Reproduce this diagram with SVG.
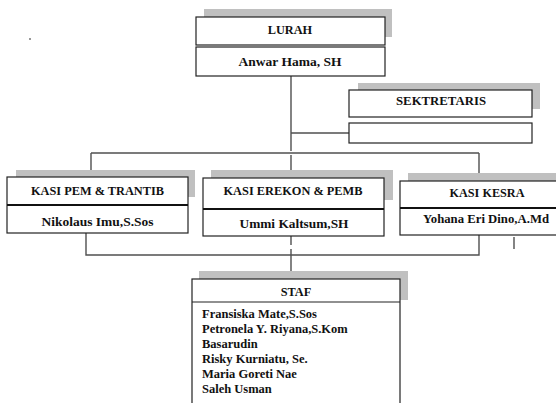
<svg xmlns="http://www.w3.org/2000/svg" width="556" height="403" viewBox="0 0 556 403">
<style>
.sh{fill:#c0c0c0}
.bx{fill:#fff;stroke:#222;stroke-width:1.2}
.dv{stroke:#111;stroke-width:2}
.cn{fill:none;stroke:#505050;stroke-width:1.4}
text{font-family:"Liberation Serif","Times New Roman",serif;font-weight:bold;fill:#111}
.t{font-size:12.3px;text-anchor:middle}
.n{font-size:13.5px;text-anchor:middle}
.s{font-size:12.5px}
</style>
<rect x="29" y="38.5" width="2" height="1" fill="#333"/>
<g id="connectors">
<path class="cn" d="M291 76V151M291 155V170M291 133H349M91 153H479M91 153V170M479 153V173"/>
<path class="cn" d="M86 233V255H479V235M291 236V245M291 249V272M514 237V249"/>
</g>
<g id="lurah">
<rect class="sh" x="204" y="9" width="188" height="28"/>
<rect class="bx" x="196" y="17" width="189" height="28"/>
<rect class="bx" x="196" y="47" width="189" height="29"/>
<text class="t" x="290" y="34" font-size="12.5">LURAH</text>
<text class="n" x="290" y="66">Anwar Hama, SH</text>
</g>
<g id="sekretaris">
<rect class="sh" x="358" y="83" width="182" height="26"/>
<rect class="bx" x="349" y="90" width="183" height="27"/>
<rect class="bx" x="349" y="123" width="183" height="20"/>
<text class="t" x="441" y="105" textLength="90" lengthAdjust="spacingAndGlyphs">SEKTRETARIS</text>
</g>
<g id="kasi-pem">
<rect class="sh" x="16" y="170" width="179" height="27"/>
<rect class="bx" x="7" y="177" width="181" height="56"/>
<line class="dv" x1="7" y1="205" x2="188" y2="205"/>
<text class="t" x="97.5" y="195" textLength="133" lengthAdjust="spacingAndGlyphs">KASI PEM &amp; TRANTIB</text>
<text class="n" x="97.5" y="226" textLength="112" lengthAdjust="spacingAndGlyphs">Nikolaus Imu,S.Sos</text>
</g>
<g id="kasi-erekon">
<rect class="sh" x="211" y="170" width="182" height="30"/>
<rect class="bx" x="203" y="178" width="181" height="58"/>
<line class="dv" x1="203" y1="209" x2="384" y2="209"/>
<text class="t" x="293" y="195" textLength="139" lengthAdjust="spacingAndGlyphs">KASI EREKON &amp; PEMB</text>
<text class="n" x="294" y="228" textLength="109" lengthAdjust="spacingAndGlyphs">Ummi Kaltsum,SH</text>
</g>
<g id="kasi-kesra">
<rect class="sh" x="408" y="173" width="148" height="28"/>
<rect class="bx" x="400" y="181" width="157" height="54"/>
<line class="dv" x1="400" y1="208" x2="556" y2="208"/>
<text class="t" x="487" y="197" textLength="75" lengthAdjust="spacingAndGlyphs">KASI KESRA</text>
<text class="n" x="486" y="223" textLength="126" lengthAdjust="spacingAndGlyphs">Yohana Eri Dino,A.Md</text>
</g>
<g id="staf">
<rect class="sh" x="199" y="271" width="209" height="29"/>
<rect class="bx" x="192" y="279" width="208" height="130"/>
<line class="bx" x1="192" y1="302" x2="400" y2="302"/>
<text class="t" x="296" y="296" font-size="12.5">STAF</text>
<text class="s" x="202" y="318">Fransiska Mate,S.Sos</text>
<text class="s" x="202" y="333">Petronela Y. Riyana,S.Kom</text>
<text class="s" x="202" y="348">Basarudin</text>
<text class="s" x="202" y="363">Risky Kurniatu, Se.</text>
<text class="s" x="202" y="378">Maria Goreti Nae</text>
<text class="s" x="202" y="393">Saleh Usman</text>
</g>
</svg>
